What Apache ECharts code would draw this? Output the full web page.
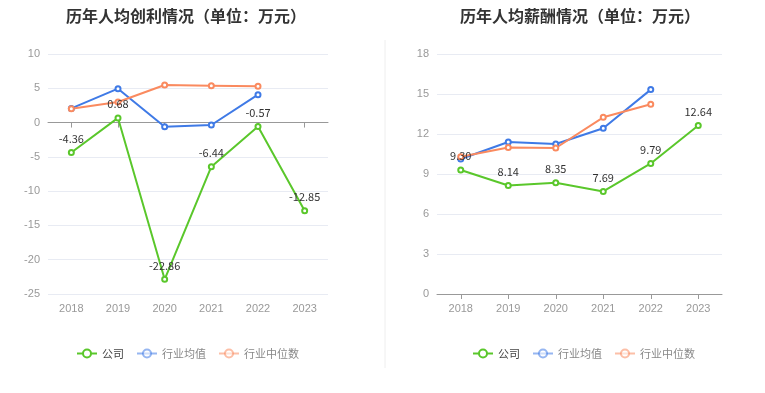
<!DOCTYPE html>
<html><head><meta charset="utf-8">
<script src="https://cdn.jsdelivr.net/npm/echarts@6/dist/echarts.min.js"></script>
<style>html,body{margin:0;padding:0;background:#fff}#c{width:765px;height:393px}</style>
</head><body><div id="c"></div>
<script>
const years = ['2018','2019','2020','2021','2022','2023'];
const profitCompany = [-4.36, 0.68, -22.86, -6.44, -0.57, -12.85];
const profitAvg = [2.07, 4.94, -0.6, -0.35, 4.07, null];
const profitMedian = [2.0, 3.0, 5.48, 5.38, 5.28, null];
const salaryCompany = [9.30, 8.14, 8.35, 7.69, 9.79, 12.64];
const salaryAvg = [10.13, 11.4, 11.25, 12.43, 15.33, null];
const salaryMedian = [10.3, 10.98, 10.95, 13.25, 14.23, null];
const names = ['公司','行业均值','行业中位数'];
const colors = ['#5ac72b','#3f7ae6','#fa8a5f'];

const chart = echarts.init(document.getElementById('c'));
const font = '"Noto Sans CJK SC", "Noto Sans", sans-serif';
function series(name, data, color, idx, grid, showLabel) {
  return {
    name: name, type: 'line', data: data, xAxisIndex: idx, yAxisIndex: grid,
    symbol: 'emptyCircle', symbolSize: 5, showSymbol: true,
    lineStyle: {color: color, width: 2}, itemStyle: {color: color, borderWidth: 1.5},
    label: {show: showLabel, position: 'top', color: '#333', fontSize: 11, fontFamily: font,
      formatter: p => p.value.toFixed(2)},
    z: showLabel ? 3 : 2
  };
}
const legendData = names.map((n,i) => ({name: n, textStyle: {color: i===0 ? '#444' : '#888'},
  itemStyle: {opacity: i===0?1:0.55}, lineStyle: {opacity: i===0?1:0.55}}));
function legend(left) {
  return {data: legendData, left: left, top: 343, itemWidth: 20, itemHeight: 10, itemGap: 12,
    textStyle: {fontSize: 11, fontFamily: font}};
}
chart.setOption({
  animation: false,
  color: colors,
  title: [
    {text: '历年人均创利情况（单位：万元）', left: 181, top: 3, textAlign: 'center',
     textStyle: {fontSize: 16, fontWeight: 'bold', color: '#333', fontFamily: font}},
    {text: '历年人均薪酬情况（单位：万元）', left: 575, top: 3, textAlign: 'center',
     textStyle: {fontSize: 16, fontWeight: 'bold', color: '#333', fontFamily: font}}
  ],
  legend: [legend(71), legend(467)],
  grid: [
    {left: 48, right: 765 - 328, top: 54, height: 240},
    {left: 437, right: 765 - 722, top: 54, height: 240}
  ],
  xAxis: [
    {type: 'category', data: years, gridIndex: 0, axisLine: {show: false, onZero: false},
     axisTick: {show: false}, axisLabel: {color: '#999', fontSize: 11, margin: 9}},
    {type: 'category', data: years, gridIndex: 0, position: 'bottom',
     axisLine: {show: true, onZero: true, lineStyle: {color: '#999'}},
     axisTick: {show: true, alignWithLabel: true, lineStyle: {color: '#999'}}, axisLabel: {show: false}},
    {type: 'category', data: years, gridIndex: 1,
     axisLine: {show: true, lineStyle: {color: '#999'}},
     axisTick: {show: true, alignWithLabel: true, lineStyle: {color: '#999'}},
     axisLabel: {color: '#999', fontSize: 11, margin: 9}}
  ],
  yAxis: [
    {type: 'value', gridIndex: 0, min: -25, max: 10, interval: 5,
     axisLabel: {color: '#999', fontSize: 11}, splitLine: {lineStyle: {color: '#e8ebf3'}}},
    {type: 'value', gridIndex: 1, min: 0, max: 18, interval: 3,
     axisLabel: {color: '#999', fontSize: 11}, splitLine: {lineStyle: {color: '#e8ebf3'}}}
  ],
  graphic: [{type: 'line', shape: {x1: 385, y1: 40, x2: 385, y2: 368}, style: {stroke: '#eee', lineWidth: 1}}],
  series: [
    series('公司', profitCompany, colors[0], 0, 0, true),
    series('行业均值', profitAvg, colors[1], 0, 0, false),
    series('行业中位数', profitMedian, colors[2], 0, 0, false),
    series('公司', salaryCompany, colors[0], 2, 1, true),
    series('行业均值', salaryAvg, colors[1], 2, 1, false),
    series('行业中位数', salaryMedian, colors[2], 2, 1, false)
  ]
});
</script></body></html>
